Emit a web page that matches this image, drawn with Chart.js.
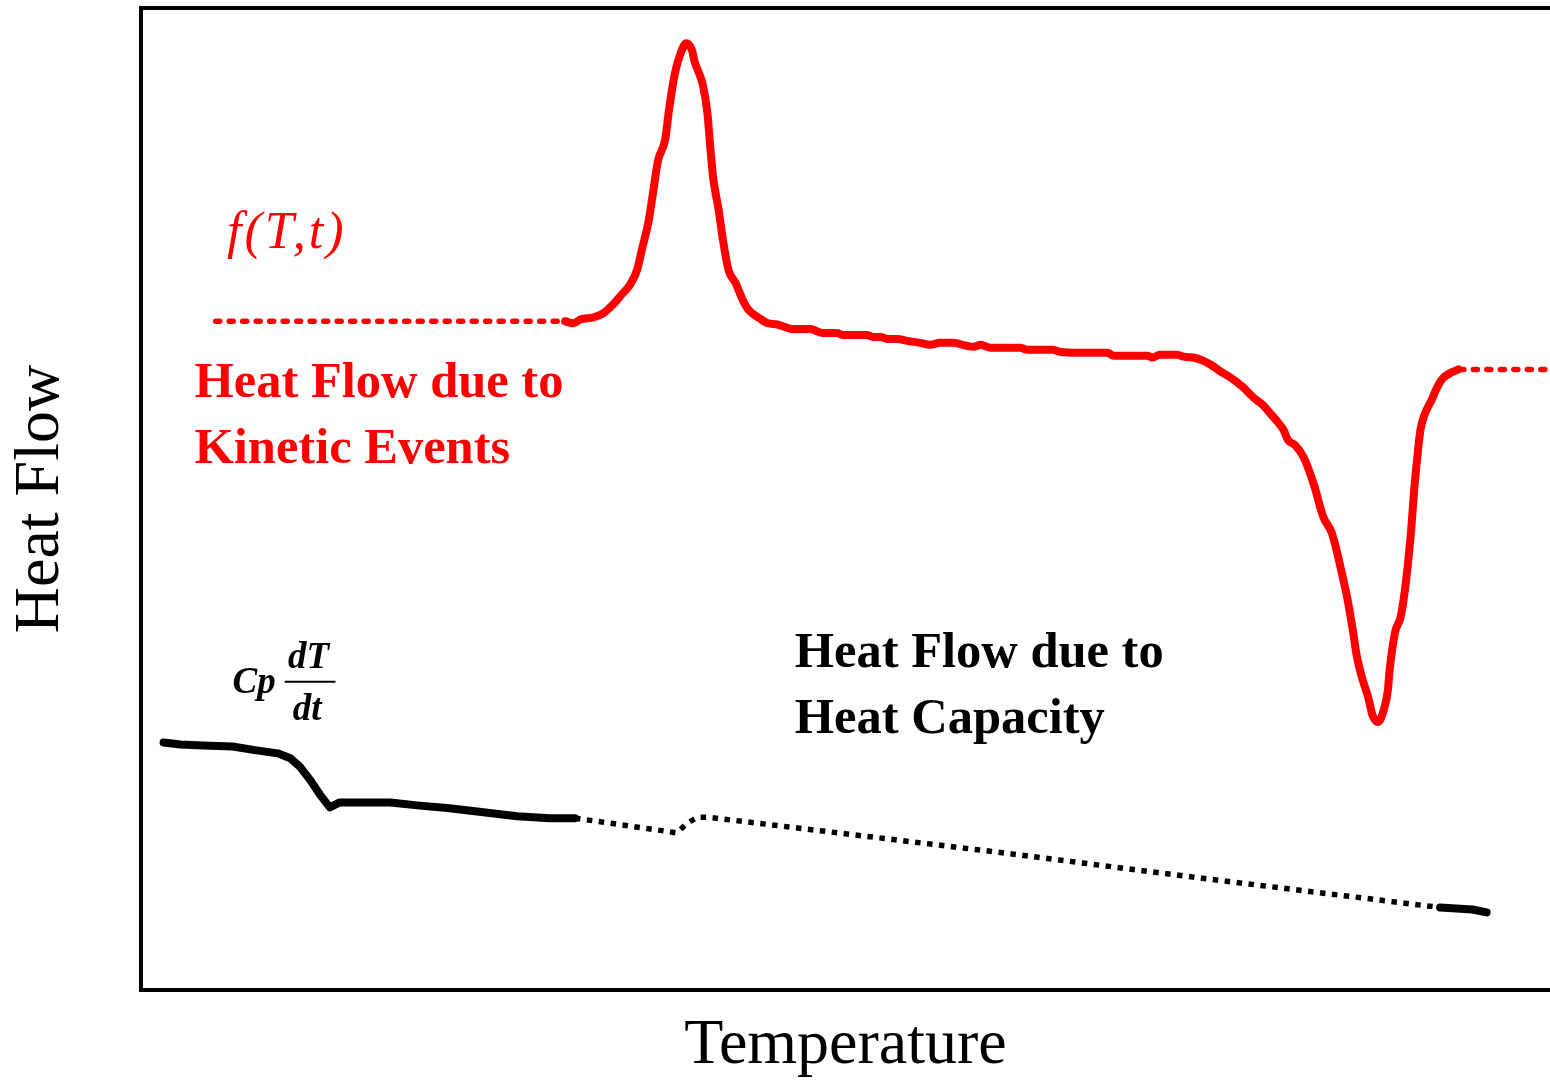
<!DOCTYPE html>
<html>
<head>
<meta charset="utf-8">
<title>Heat Flow vs Temperature</title>
<script src="https://cdn.jsdelivr.net/npm/chart.js@4/dist/chart.umd.min.js"></script>
<style>
  html, body { margin: 0; padding: 0; background: #ffffff; }
  #wrap { position: relative; width: 1550px; height: 1080px; }
</style>
</head>
<body>
<div id="wrap"><canvas id="dsc"></canvas></div>
<script>
// Temperature (arbitrary units, 0-100) and heat flow (arbitrary units, 0-100)

// Kinetic (non-reversing) heat flow, measured part
const kineticT = [30.1, 30.7, 31.2, 32.1, 32.8, 33.5, 34.1, 34.7, 35.2, 35.6, 36.0, 36.3, 36.7, 37.2, 37.5, 37.9, 38.3, 38.7, 39.1, 39.3, 39.7, 39.9, 40.2, 40.4, 40.6, 41.0, 41.3, 41.7, 42.2, 42.7, 43.1, 43.9, 44.5, 45.1, 46.3, 47.5, 48.4, 49.4, 49.8, 51.5, 52.0, 52.5, 53.0, 53.7, 54.4, 55.3, 56.0, 56.7, 57.6, 58.6, 59.1, 59.6, 60.3, 62.4, 62.9, 64.7, 65.2, 66.6, 68.6, 69.0, 71.4, 71.8, 72.3, 73.5, 74.0, 75.0, 75.9, 76.6, 77.3, 78.2, 78.9, 79.6, 80.1, 80.7, 81.1, 81.4, 81.9, 82.5, 82.8, 83.3, 83.9, 84.5, 84.9, 85.2, 85.6, 86.0, 86.3, 86.7, 87.1, 87.4, 87.8, 88.2, 88.5, 88.6, 89.0, 89.4, 89.7, 90.1, 90.4, 90.6, 90.8, 91.1, 91.6, 92.0, 92.4, 92.9, 93.5];
const kineticHF = [68.1, 67.9, 68.3, 68.5, 68.9, 69.8, 70.8, 71.8, 73.3, 75.7, 78.1, 80.8, 84.5, 86.6, 89.9, 93.4, 95.4, 96.4, 95.7, 94.5, 93.0, 92.0, 89.3, 85.9, 82.8, 79.4, 76.4, 73.3, 72.0, 70.3, 69.3, 68.4, 67.9, 67.8, 67.3, 67.3, 66.9, 66.9, 66.7, 66.7, 66.5, 66.5, 66.3, 66.3, 66.1, 65.9, 65.7, 65.9, 65.9, 65.6, 65.5, 65.7, 65.4, 65.4, 65.2, 65.2, 65.0, 64.9, 64.9, 64.6, 64.6, 64.4, 64.7, 64.7, 64.5, 64.3, 63.7, 63.0, 62.4, 61.4, 60.4, 59.6, 58.8, 57.8, 57.0, 56.0, 55.5, 54.3, 53.3, 51.2, 48.2, 46.6, 44.5, 42.6, 40.0, 36.7, 33.9, 31.6, 29.8, 28.0, 27.3, 28.5, 30.6, 32.3, 36.4, 38.0, 40.7, 46.1, 51.6, 54.5, 57.0, 58.6, 60.1, 61.4, 62.3, 62.8, 63.2];

// Kinetic baselines extrapolated before and after the events
const kineticBaseBeforeT = [5.3, 30.1];
const kineticBaseBeforeHF = [68.1, 68.1];
const kineticBaseAfterT = [93.6, 100];
const kineticBaseAfterHF = [63.2, 63.2];

// Heat-capacity (reversing) heat flow
const cpStartT = [1.6, 2.8, 4.4, 6.5, 8.2, 9.7, 10.6, 11.3, 12.0, 12.7, 13.4, 14.1, 17.7, 19.6, 21.9, 24.3, 26.7, 29.0, 30.8];
const cpStartHF = [25.2, 25.0, 24.9, 24.8, 24.4, 24.1, 23.6, 22.7, 21.4, 19.9, 18.6, 19.1, 19.1, 18.8, 18.5, 18.1, 17.7, 17.5, 17.5];
const cpMidT = [30.8, 37.1, 38.0, 38.8, 39.5, 40.2, 43.7, 61.0, 75.2, 92.2];
const cpMidHF = [17.5, 16.2, 16.0, 17.0, 17.6, 17.6, 17.0, 14.0, 11.4, 8.4];
const cpEndT = [92.2, 94.5, 95.5];
const cpEndHF = [8.4, 8.2, 7.9];

const axisTitles = { x: 'Temperature', y: 'Heat Flow' };

const zip = (xs, ys) => xs.map((x, i) => ({ x: x, y: ys[i] }));

const RED = '#ff0000';
const BLACK = '#000000';
const SERIF = '"Liberation Serif", "Times New Roman", Times, serif';

const solid = (color) => ({
  borderColor: color, borderWidth: 8, borderCapStyle: 'round', borderJoinStyle: 'round',
  pointRadius: 0, fill: false, tension: 0
});

// Text drawn on the plot, anchored in data units
const notes = [
  { lines: ['Heat Flow due to', 'Kinetic Events'], x: 3.8, y: [60.4, 53.7], color: RED, font: 'bold 50.5px ' + SERIF },
  { lines: ['Heat Flow due to', 'Heat Capacity'], x: 46.4, y: [32.9, 26.2], color: BLACK, font: 'bold 50.5px ' + SERIF }
];

const annotationPlugin = {
  id: 'annotations',
  afterDatasetsDraw(chart) {
    const ctx = chart.ctx;
    const xs = chart.scales.x, ys = chart.scales.y;
    const px = (v) => xs.getPixelForValue(v);
    const py = (v) => ys.getPixelForValue(v);
    ctx.save();
    ctx.textBaseline = 'alphabetic';

    notes.forEach(n => {
      ctx.font = n.font;
      ctx.fillStyle = n.color;
      ctx.textAlign = 'left';
      n.lines.forEach((t, i) => ctx.fillText(t, px(n.x), py(n.y[i])));
    });

    // f(T,t)
    ctx.font = 'italic 52px ' + SERIF;
    ctx.fillStyle = RED;
    ctx.textAlign = 'left';
    if ('letterSpacing' in ctx) ctx.letterSpacing = '3px';
    ctx.fillText('f(T,t)', px(6.1), py(75.6));
    if ('letterSpacing' in ctx) ctx.letterSpacing = '0px';

    // Cp dT/dt
    ctx.font = 'bold italic 37px ' + SERIF;
    ctx.fillStyle = BLACK;
    ctx.fillText('Cp', px(6.5), py(30.2));
    ctx.textAlign = 'center';
    ctx.fillText('dT', px(11.9), py(32.8));
    ctx.fillText('dt', px(11.8), py(27.5));
    ctx.strokeStyle = BLACK;
    ctx.lineWidth = 2;
    ctx.beginPath();
    ctx.moveTo(px(10.2), py(31.4));
    ctx.lineTo(px(13.8), py(31.4));
    ctx.stroke();

    ctx.restore();
  }
};

new Chart(document.getElementById('dsc'), {
  type: 'line',
  data: {
    datasets: [
      Object.assign(solid(RED), { data: zip(kineticT, kineticHF), cubicInterpolationMode: 'monotone' }),
      { data: zip(kineticBaseBeforeT, kineticBaseBeforeHF), borderColor: RED, borderWidth: 5.5, borderCapStyle: 'round', borderDash: [4, 9.5], pointRadius: 0, fill: false },
      { data: zip(kineticBaseAfterT, kineticBaseAfterHF), borderColor: RED, borderWidth: 5.5, borderCapStyle: 'round', borderDash: [4, 9.5], pointRadius: 0, fill: false },
      Object.assign(solid(BLACK), { data: zip(cpStartT, cpStartHF) }),
      { data: zip(cpMidT, cpMidHF), borderColor: BLACK, borderWidth: 5.5, borderCapStyle: 'butt', borderDash: [5.5, 6.5], pointRadius: 0, fill: false },
      Object.assign(solid(BLACK), { data: zip(cpEndT, cpEndHF) })
    ]
  },
  options: {
    responsive: true,
    maintainAspectRatio: false,
    animation: false,
    layout: { padding: 0 },
    plugins: { legend: { display: false }, tooltip: { enabled: false } },
    scales: {
      x: {
        type: 'linear', position: 'bottom', min: 0, max: 100,
        grid: { display: false },
        ticks: { display: false },
        border: { color: BLACK, width: 4 },
        title: { display: true, text: axisTitles.x, color: BLACK, font: { family: SERIF, size: 64, lineHeight: 1 }, padding: { top: 0, bottom: 2 } },
        afterFit(scale) { scale.height = 90; }
      },
      xTop: {
        type: 'linear', position: 'top', min: 0, max: 100,
        grid: { display: false },
        ticks: { display: false },
        border: { color: BLACK, width: 4 },
        afterFit(scale) { scale.height = 8; }
      },
      y: {
        type: 'linear', position: 'left', min: 0, max: 100,
        grid: { display: false },
        ticks: { display: false },
        border: { color: BLACK, width: 4 },
        title: { display: true, text: axisTitles.y, color: BLACK, font: { family: SERIF, size: 64, lineHeight: 1 }, padding: { top: 9, bottom: 0 } },
        afterFit(scale) { scale.width = 141; }
      }
    }
  },
  plugins: [annotationPlugin]
});
</script>
</body>
</html>
